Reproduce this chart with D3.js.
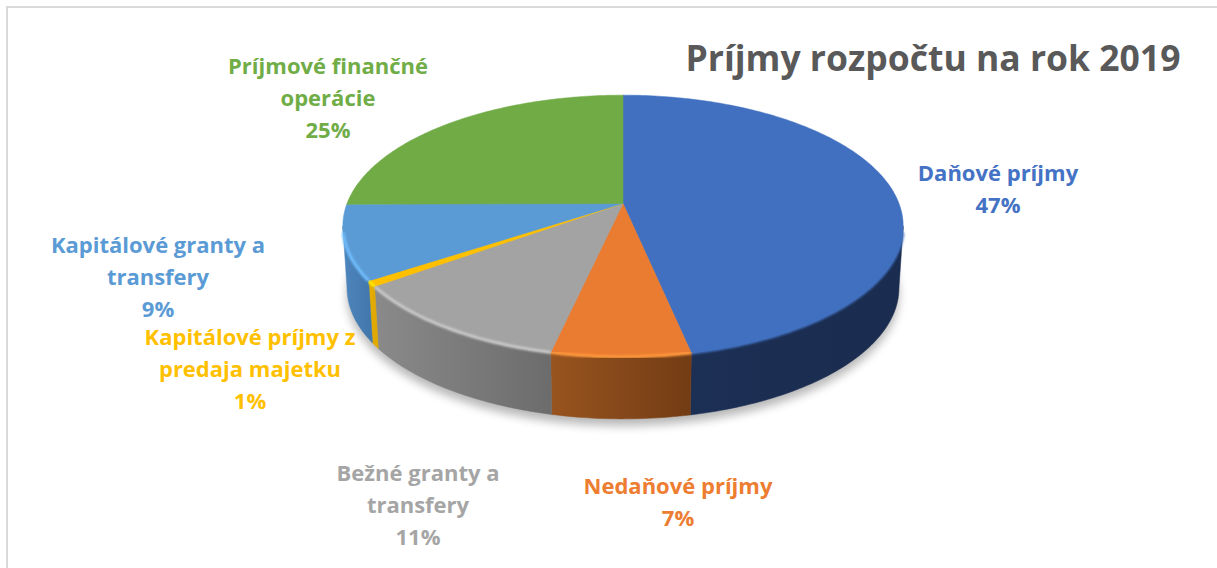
<!DOCTYPE html>
<html>
<head>
<meta charset="utf-8">
<script src="https://cdn.jsdelivr.net/npm/d3@7"></script>
<style>
  html, body { margin: 0; padding: 0; background: #fff; }
  svg { display: block; }
  text { font-family: "Open Sans", sans-serif; font-weight: 700; }
</style>
</head>
<body>
<div class="canvas"></div>
<script>
const titleText = 'Príjmy rozpočtu na rok 2019';
const categories = ['Daňové príjmy', 'Nedaňové príjmy', 'Bežné granty a transfery',
  'Kapitálové príjmy z predaja majetku', 'Kapitálové granty a transfery', 'Príjmové finančné operácie'];
const values = [46.7, 6.8, 11.5, 0.7, 9.2, 25.1];
const labelLines = [
  ['Daňové príjmy'],
  ['Nedaňové príjmy'],
  ['Bežné granty a', 'transfery'],
  ['Kapitálové príjmy z', 'predaja majetku'],
  ['Kapitálové granty a', 'transfery'],
  ['Príjmové finančné', 'operácie']
];
const percentLabels = ['47%', '7%', '11%', '1%', '9%', '25%'];

// layout
const labelX = [998, 678, 418, 250, 158, 328];
const labelY = [181, 494, 481, 345, 253, 74];
const labelStep = 32;
const topColors = ['#4170c0', '#ea7c31', '#a3a3a3', '#ffc000', '#5b9bd5', '#70ab46'];
const textColors = ['#4472c4', '#ed7d31', '#a5a5a5', '#ffc000', '#5b9bd5', '#70ad47'];
const sideLeft = ['#1c2f54', '#98541f', '#8a8a8a', '#e8ae00', '#4d86bd', '#70ab46'];
const sideRight = ['#1a2c4f', '#733c14', '#6c6c6c', '#e0a800', '#4378ad', '#70ab46'];

const svg = d3.select('.canvas')
  .append('svg')
  .attr('width', 1217)
  .attr('height', 568);

const defs = svg.append('defs');
defs.append('filter').attr('id', 'soft').attr('x', '-10%').attr('y', '-10%').attr('width', '120%').attr('height', '130%')
  .append('feGaussianBlur').attr('stdDeviation', 5);
defs.append('filter').attr('id', 'rim').attr('x', '-5%').attr('y', '-5%').attr('width', '110%').attr('height', '110%')
  .append('feGaussianBlur').attr('stdDeviation', 1);

// frame
svg.append('path')
  .attr('d', 'M7,568V7H1217')
  .attr('fill', 'none')
  .attr('stroke', '#d9d9d9')
  .attr('stroke-width', 2);

// tilted disc: apex sits above the ellipse centre because of the perspective
const persp = 0.172;
const xScale = d3.scaleLinear().domain([-1, 1]).range([623 - 276, 623 + 276]);
const yScale = d3.scaleLinear().domain([-1, 1]).range([203.5 - 127, 203.5 + 127]);
const depth = 62;
const bottomShrink = 0.985;

const project = (a, level) => {
  const u = Math.sin(a), v = -Math.cos(a), w = 1 - persp * v;
  const x = xScale(u / w), y = yScale(v / w);
  return level === 0 ? [x, y] : [xScale(0) + (x - xScale(0)) * bottomShrink, y + depth];
};
const arcPoints = (a0, a1, level) => {
  const n = Math.max(2, Math.ceil(Math.abs(a1 - a0) * 60));
  return d3.range(n + 1).map(i => project(a0 + (a1 - a0) * i / n, level));
};
const line = d3.line();

const pie = d3.pie().sort(null).value(d => d);
const slices = pie(values);

const frontStart = Math.PI - Math.acos(persp);
const frontEnd = Math.PI + Math.acos(persp);

// shadow below the disc
svg.append('path')
  .attr('d', line(arcPoints(0, 2 * Math.PI, 1)) + 'Z')
  .attr('transform', 'translate(0,7)')
  .attr('fill', '#000')
  .attr('opacity', 0.28)
  .attr('filter', 'url(#soft)');

// side walls
slices.forEach((s, i) => {
  const a0 = Math.max(s.startAngle, frontStart), a1 = Math.min(s.endAngle, frontEnd);
  if (a1 <= a0) return;
  const upper = arcPoints(a0, a1, 0);
  const lower = arcPoints(a1, a0, 1);
  const xs = upper.map(p => p[0]);
  const grad = defs.append('linearGradient')
    .attr('id', 'side' + i)
    .attr('gradientUnits', 'userSpaceOnUse')
    .attr('x1', d3.min(xs)).attr('x2', d3.max(xs))
    .attr('y1', 0).attr('y2', 0);
  grad.append('stop').attr('offset', 0).attr('stop-color', sideLeft[i]);
  grad.append('stop').attr('offset', 1).attr('stop-color', sideRight[i]);
  svg.append('path')
    .attr('d', line(upper.concat(lower)) + 'Z')
    .attr('fill', `url(#side${i})`)
    .attr('stroke', `url(#side${i})`)
    .attr('stroke-width', 0.5);
});

// top face
slices.forEach((s, i) => {
  svg.append('path')
    .attr('d', line([[xScale(0), yScale(0)]].concat(arcPoints(s.startAngle, s.endAngle, 0))) + 'Z')
    .attr('fill', topColors[i])
    .attr('stroke', topColors[i])
    .attr('stroke-width', 0.5);
});

// soft bevel on the front rim, stopping short of the two side extremes
slices.forEach((s, i) => {
  const a0 = Math.max(s.startAngle, frontStart + 0.05), a1 = Math.min(s.endAngle, frontEnd - 0.05);
  if (a1 <= a0) return;
  svg.append('path')
    .attr('d', line(arcPoints(a0, a1, 0)))
    .attr('fill', 'none')
    .attr('stroke', d3.color(topColors[i]).brighter(i === 0 ? 0 : 0.6))
    .attr('stroke-width', 3)
    .attr('filter', 'url(#rim)');
});

// title
svg.append('text')
  .attr('x', 933)
  .attr('y', 71)
  .attr('text-anchor', 'middle')
  .attr('font-size', 35.5)
  .attr('fill', '#595959')
  .text(titleText);

// data labels
categories.forEach((c, i) => {
  const rows = labelLines[i].concat([percentLabels[i]]);
  const label = svg.append('text')
    .attr('text-anchor', 'middle')
    .attr('font-size', 22)
    .attr('fill', textColors[i]);
  rows.forEach((r, j) => {
    label.append('tspan')
      .attr('x', labelX[i])
      .attr('y', labelY[i] + j * labelStep)
      .text(r);
  });
});
</script>
</body>
</html>
